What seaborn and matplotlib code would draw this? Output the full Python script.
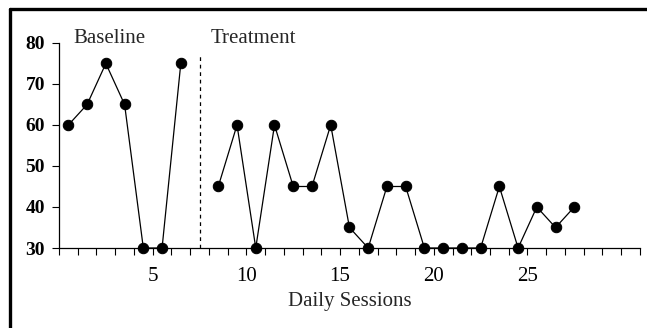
import numpy as np
import matplotlib.pyplot as plt
import seaborn as sns
import pandas as pd

# session numbers and scores
baseline_sessions = [1, 2, 3, 4, 5, 6, 7]
baseline_scores = [60, 65, 75, 65, 30, 30, 75]
treatment_sessions = list(range(9, 29))
treatment_scores = [45, 60, 30, 60, 45, 45, 60, 35, 30, 45,
                    45, 30, 30, 30, 30, 45, 30, 40, 35, 40]
x_labels = [5, 10, 15, 20, 25]
y_ticks = [30, 40, 50, 60, 70, 80]

sns.set_style("ticks")
plt.rcParams['font.family'] = ['Liberation Serif', 'DejaVu Serif']

df_base = pd.DataFrame({"session": baseline_sessions, "score": baseline_scores})
df_treat = pd.DataFrame({"session": treatment_sessions, "score": treatment_scores})

fig = plt.figure(figsize=(6.47, 3.28), dpi=100)
ax = fig.add_axes([0.0912, 0.2439, 0.8978, 0.6251])

for d in (df_base, df_treat):
    sns.lineplot(data=d, x="session", y="score", ax=ax, color="black",
                 linewidth=0.9, marker="o", markersize=7.5, markeredgecolor="black",
                 markerfacecolor="black", clip_on=False)

# phase change line
ax.axvline(8, ymax=0.95, color="black", linestyle=(0, (3, 3)), linewidth=0.9)

ax.set_xlim(0.5, 31.5)
ax.set_ylim(30, 80)
ticks = np.arange(0.5, 32, 1)
ax.set_xticks(ticks)
ax.set_xticklabels([str(int(t - 0.5)) if int(t - 0.5) in x_labels else "" for t in ticks],
                   fontsize=15)
ax.set_yticks(y_ticks)
ax.set_yticklabels([str(v) for v in y_ticks], fontsize=14, fontweight="bold")
ax.tick_params(axis="x", direction="out", length=5, width=0.8, pad=9, colors="black")
ax.tick_params(axis="y", direction="out", length=5, width=0.8, pad=5, colors="black")

ax.set_xlabel("Daily Sessions", fontsize=15, labelpad=4)
ax.set_ylabel("")
sns.despine(ax=ax)
for s in ("left", "bottom"):
    ax.spines[s].set_linewidth(0.9)
    ax.spines[s].set_color("black")

ax.text(1.25, 81.0, "Baseline", fontsize=15, va="center", ha="left", clip_on=False)
ax.text(8.6, 81.0, "Treatment", fontsize=15, va="center", ha="left", clip_on=False)

# outer frame (only left and top visible)
fig.add_artist(plt.Line2D([0.015, 0.015], [-0.05, 0.972], color="black", linewidth=2.4,
                          transform=fig.transFigure))
fig.add_artist(plt.Line2D([0.015, 1.05], [0.972, 0.972], color="black", linewidth=2.4,
                          transform=fig.transFigure))

fig.savefig("out.png", dpi=100)
